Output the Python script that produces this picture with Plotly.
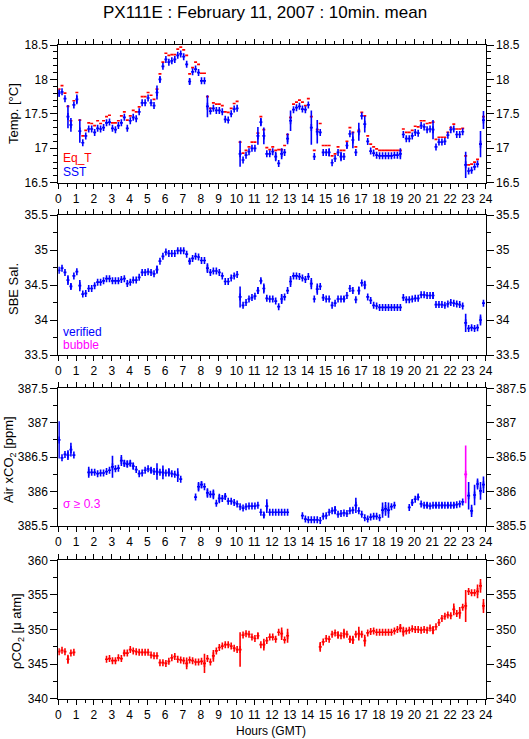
import plotly.graph_objects as go

# 10-minute sample slots over the day (hours GMT)
N = 144
hours = [i / 6 + 1 / 24 for i in range(N)]

eq_t = [17.86, 17.91, 17.80, 17.61, 17.40, 17.69, 17.81, 17.41, 17.18, 17.26,
        17.37, 17.36, 17.33, 17.40, 17.36, 17.40, 17.46, 17.48, 17.37, 17.37,
        17.40, 17.47, 17.53, 17.41, 17.47, 17.55, 17.53, 17.60, 17.75, 17.75,
        17.81, 17.77, 17.71, 17.86, 18.08, 18.25, 18.38, 18.35, 18.36, 18.36,
        18.44, 18.47, 18.43, 18.35, 18.08, 18.17, 18.25, 18.22, 18.09, 18.09,
        17.75, 17.58, 17.66, 17.64, 17.64, 17.62, 17.53, 17.52, 17.58, 17.65,
        17.68, 17.09, 16.93, 16.97, 17.02, 17.09, 17.09, 17.22, 17.46, 17.27,
        17.01, 16.98, 17.02, 16.97, 16.98, 16.98, 17.04, 17.20, 17.45, 17.64,
        17.67, 17.70, 17.67, 17.62, 17.72, 17.46, 16.97, 17.27, 17.36, 17.04,
        17.04, 17.04, 16.89, 16.92, 17.02, 16.97, 16.97, 17.10, 17.30, 17.23,
        17.02, 17.26, 17.52, 17.47, 17.18, 17.06, 17.02, 16.99, 16.97, 16.97,
        16.97, 16.97, 16.97, 16.97, 16.97, 16.97, 17.28, 17.23, 17.23, 17.26,
        17.32, 17.31, 17.40, 17.40, 17.36, 17.37, 17.38, 17.13, 17.16, 17.16,
        17.16, 17.23, 17.30, 17.35, 17.28, 17.28, 17.29, 16.89, 16.76, 16.77,
        16.80, 16.84, 17.06, 17.46]

sst = [17.80, 17.82, 17.72, 17.46, 17.34, 17.63, 17.71, 17.25, 17.08, 17.18,
       17.28, 17.28, 17.23, 17.29, 17.28, 17.30, 17.37, 17.38, 17.29, 17.27,
       17.33, 17.37, 17.45, 17.29, 17.40, 17.45, 17.43, 17.53, 17.66, 17.66,
       17.73, 17.66, 17.62, 17.81, 18.00, 18.19, 18.29, 18.25, 18.27, 18.29,
       18.35, 18.37, 18.33, 18.22, 17.97, 18.11, 18.15, 18.10, 17.98, 17.98,
       17.61, 17.54, 17.58, 17.55, 17.55, 17.53, 17.42, 17.41, 17.50, 17.57,
       17.58, 16.92, 16.83, 16.90, 16.95, 17.00, 17.00, 17.18, 17.38, 17.18,
       16.92, 16.92, 16.95, 16.88, 16.78, 16.92, 16.94, 17.14, 17.40, 17.56,
       17.59, 17.61, 17.57, 17.56, 17.63, 17.30, 16.88, 17.24, 17.23, 16.94,
       16.94, 16.94, 16.79, 16.85, 16.94, 16.88, 16.88, 17.04, 17.21, 17.12,
       16.94, 17.24, 17.47, 17.35, 17.10, 16.96, 16.93, 16.90, 16.89, 16.89,
       16.89, 16.89, 16.89, 16.90, 16.90, 16.92, 17.20, 17.14, 17.14, 17.18,
       17.23, 17.22, 17.33, 17.31, 17.27, 17.28, 17.27, 17.02, 17.09, 17.09,
       17.10, 17.19, 17.27, 17.28, 17.20, 17.20, 17.24, 16.76, 16.67, 16.68,
       16.73, 16.77, 17.06, 17.41]
sst_sd = {0: 0.05, 3: 0.17, 4: 0.10, 6: 0.07, 7: 0.17, 33: 0.10, 34: 0.04, 44: 0.04,
          50: 0.16, 61: 0.19, 67: 0.13, 68: 0.06, 69: 0.12, 73: 0.07, 75: 0.08,
          77: 0.08, 78: 0.15, 85: 0.25, 87: 0.17, 91: 0.06, 95: 0.07, 97: 0.04,
          99: 0.12, 101: 0.13, 103: 0.12, 115: 0.08, 126: 0.14, 137: 0.19,
          142: 0.19, 143: 0.13}

sal = [34.71, 34.74, 34.68, 34.57, 34.48, 34.63, 34.69, 34.49, 34.37, 34.38,
       34.45, 34.45, 34.49, 34.54, 34.54, 34.56, 34.59, 34.59, 34.56, 34.56,
       34.56, 34.58, 34.59, 34.52, 34.54, 34.57, 34.57, 34.61, 34.68, 34.68,
       34.69, 34.68, 34.66, 34.72, 34.84, 34.91, 34.97, 34.95, 34.95, 34.95,
       34.99, 34.99, 34.99, 34.94, 34.84, 34.88, 34.91, 34.90, 34.85, 34.85,
       34.74, 34.68, 34.70, 34.70, 34.68, 34.63, 34.55, 34.55, 34.60, 34.63,
       34.65, 34.33, 34.21, 34.25, 34.30, 34.32, 34.34, 34.42, 34.56, 34.45,
       34.31, 34.30, 34.30, 34.27, 34.19, 34.30, 34.33, 34.42, 34.55, 34.63,
       34.63, 34.62, 34.60, 34.58, 34.62, 34.52, 34.30, 34.44, 34.48, 34.32,
       34.30, 34.30, 34.21, 34.24, 34.30, 34.30, 34.30, 34.35, 34.45, 34.42,
       34.29, 34.42, 34.53, 34.50, 34.33, 34.28, 34.21, 34.20, 34.18, 34.18,
       34.18, 34.18, 34.18, 34.18, 34.18, 34.18, 34.32, 34.29, 34.29, 34.30,
       34.31, 34.31, 34.36, 34.36, 34.35, 34.35, 34.35, 34.22, 34.22, 34.22,
       34.21, 34.23, 34.25, 34.24, 34.23, 34.22, 34.20, 33.96, 33.88, 33.89,
       33.88, 33.89, 34.00, 34.24]
sal_sd = {3: 0.07, 4: 0.04, 7: 0.08, 33: 0.06, 44: 0.04, 50: 0.07, 61: 0.15,
          67: 0.05, 68: 0.03, 69: 0.07, 75: 0.07, 78: 0.08, 85: 0.08, 87: 0.08,
          96: 0.04, 101: 0.06, 103: 0.06, 126: 0.05, 137: 0.13, 142: 0.08}

xco2 = [386.75, 386.49, 386.54, 386.53, 386.61, 386.53, None, None, None, None,
        386.28, 386.28, 386.28, 386.26, 386.27, 386.27, 386.29, 386.31, 386.36, 386.33,
        386.34, 386.45, 386.41, 386.40, 386.41, 386.37, 386.32, 386.26, 386.27, 386.31,
        386.33, 386.31, 386.29, 386.29, 386.28, 386.28, 386.27, 386.28, 386.26, 386.25,
        386.24, 386.18, None, None, None, None, 385.92, 386.07, 386.10, 386.07,
        385.98, 385.96, 385.96, 385.83, 385.90, 385.90, 385.93, 385.86, 385.86, 385.84,
        385.82, 385.78, 385.76, 385.78, 385.79, 385.79, 385.79, 385.80, 385.70, 385.66,
        385.79, 385.70, 385.70, 385.70, 385.70, 385.70, 385.70, 385.70, None, None,
        None, None, 385.65, 385.60, 385.59, 385.59, 385.59, 385.59, 385.58, 385.64,
        385.65, 385.70, 385.72, 385.73, 385.67, 385.68, 385.69, 385.68, 385.72, 385.73,
        385.80, 385.72, 385.67, 385.62, 385.60, 385.63, 385.64, 385.64, 385.62, 385.73,
        385.75, 385.73, 385.78, 385.80, None, None, None, None, 385.77, 385.84,
        385.89, 385.92, 385.82, 385.80, 385.80, 385.79, 385.80, 385.80, 385.80, 385.80,
        385.80, 385.80, 385.80, 385.80, 385.81, 385.82, 385.85, None, 385.94, 385.72,
        385.95, 386.11, 386.01, 386.10]
xco2_sd = {0: 0.27, 3: 0.07, 4: 0.10, 10: 0.08, 18: 0.16, 21: 0.08, 22: 0.05,
           23: 0.05, 24: 0.04, 25: 0.05, 31: 0.04, 33: 0.12, 35: 0.10, 37: 0.06,
           40: 0.10, 47: 0.07, 48: 0.05, 50: 0.07, 52: 0.07, 54: 0.07, 56: 0.04,
           69: 0.04, 70: 0.10, 93: 0.06, 100: 0.11, 109: 0.11, 110: 0.10, 111: 0.11,
           119: 0.04, 121: 0.04, 124: 0.04, 127: 0.04, 129: 0.04, 131: 0.04,
           133: 0.04, 138: 0.20, 139: 0.09, 140: 0.15, 141: 0.08, 142: 0.13, 143: 0.12}
# flagged sample (sigma >= 0.3)
xco2_flag_idx = [137]
xco2_flag = [386.25]
xco2_flag_sd = [0.42]

pco2 = [346.8, 347.0, 346.8, 345.7, 346.6, 346.7, None, None, None, None,
        None, None, None, None, None, None, 345.7, 345.8, 345.5, 345.5,
        345.9, 345.8, 346.6, 346.6, 347.1, 346.9, 346.8, 346.7, 346.7, 346.7,
        346.7, 346.3, 346.2, 346.2, 345.2, 345.2, 345.1, 345.4, 345.9, 346.1,
        345.7, 345.6, 345.5, 345.1, 345.6, 345.5, 345.3, 345.3, 345.4, 345.1,
        345.8, 345.3, 346.2, 346.9, 347.4, 347.6, 347.8, 347.8, 347.6, 347.3,
        347.1, 347.1, 349.2, 349.4, 349.3, 348.9, 348.7, 349.1, 347.8, 347.8,
        348.4, 348.9, 348.9, 348.6, 349.6, 349.4, 348.5, 349.1, None, None,
        None, None, None, None, None, None, None, None, 347.5, 348.2,
        348.7, 348.6, 349.3, 349.5, 349.2, 349.1, 349.4, 349.3, 348.6, 348.5,
        349.3, 349.4, 349.3, 348.4, 349.5, 349.7, 349.8, 349.6, 349.6, 349.6,
        349.6, 349.6, 349.6, 349.8, 350.0, 350.2, 349.7, 349.8, 349.9, 350.1,
        350.0, 350.0, 349.9, 350.0, 349.9, 350.2, 349.9, 350.4, 351.0, 351.6,
        351.9, 352.1, 352.0, 352.9, 352.3, 352.4, 353.2, 353.4, 355.5, 355.3,
        355.3, 355.5, 356.3, 353.4]
pco2_sd = {3: 0.65, 22: 0.4, 43: 0.85, 49: 1.4, 52: 0.85, 61: 2.5, 67: 0.4,
           69: 0.85, 75: 0.9, 77: 1.0, 88: 0.7, 94: 0.5, 96: 0.7, 98: 0.5,
           99: 0.6, 101: 1.0, 103: 0.85, 115: 0.6, 116: 0.7, 126: 0.6, 133: 0.85,
           135: 0.85, 137: 2.3, 141: 1.0, 142: 1.0, 143: 1.0}

y_ranges = [[16.5, 18.5], [33.5, 35.5], [385.5, 387.5], [340, 360]]
y_dticks = [0.5, 0.5, 0.5, 5]
y_minor = [0.1, 0.25, 0.25, 2.5]
y_titles = ["Temp. [°C]", "SBE Sal.", "Air xCO<sub>2</sub> [ppm]", "ρCO<sub>2</sub> [μ atm]"]

BLUE, RED, MAG = "#0000ff", "#ff0000", "#ff00ff"
W, H = 529, 739
FONT = "Liberation Sans, Arial, Helvetica, sans-serif"

fig = go.Figure()


def sd_list(d):
    return [d.get(i, 0) for i in range(N)]


def add(x, y, color, p, sd=None, vmark=True):
    xa = "x" if p == 1 else f"x{p}"
    ya = "y" if p == 1 else f"y{p}"
    fig.add_trace(go.Scatter(
        x=x, y=y, mode="markers", xaxis=xa, yaxis=ya,
        marker=dict(symbol="line-ns", size=5 if vmark else 1, color=color,
                    opacity=1 if vmark else 0,
                    line=dict(color=color, width=1.6 if vmark else 0)),
        error_x=dict(type="constant", value=1 / 12, color=color, thickness=1.7, width=0),
        error_y=(dict(type="data", array=sd, color=color, thickness=1.6, width=0)
                 if sd is not None else dict(visible=False)),
        showlegend=False, hoverinfo="skip"))


add(hours, eq_t, RED, 1, vmark=False)
add(hours, sst, BLUE, 1, sd_list(sst_sd))
add(hours, sal, BLUE, 2, sd_list(sal_sd))
add(hours, xco2, BLUE, 3, sd_list(xco2_sd))
add([hours[i] for i in xco2_flag_idx], xco2_flag, MAG, 3, xco2_flag_sd)
add(hours, pco2, RED, 4, sd_list(pco2_sd))

# pixel layout of the four panels (top, bottom)
panels = [(45, 182.7), (215, 355), (388.3, 526), (560.3, 698.7)]
x_dom = [58.3 / W, 485.7 / W]

common = dict(showline=True, linecolor="black", linewidth=1, mirror="ticks",
              ticks="outside", ticklen=7, tickwidth=1, tickcolor="black",
              showgrid=False, zeroline=False, automargin=False,
              tickfont=dict(family=FONT, size=12, color="black"))

layout = dict(width=W, height=H, margin=dict(l=0, r=0, t=0, b=0),
              paper_bgcolor="white", plot_bgcolor="white", showlegend=False,
              font=dict(family=FONT, color="black"))

for k, (top, bot) in enumerate(panels):
    p = k + 1
    sfx = "" if p == 1 else str(p)
    dom = [1 - bot / H, 1 - top / H]
    layout[f"xaxis{sfx}"] = dict(common, domain=x_dom, range=[0, 24], tick0=0, dtick=1,
                                 anchor=f"y{sfx}", ticklen=5,
                                 minor=dict(ticks="outside", ticklen=3, dtick=0.5,
                                            tick0=0, tickcolor="black"))
    layout[f"yaxis{sfx}"] = dict(common, domain=dom, range=y_ranges[k], dtick=y_dticks[k],
                                 tick0=y_ranges[k][0], anchor=f"x{sfx}",
                                 minor=dict(ticks="outside", ticklen=4, dtick=y_minor[k],
                                            tick0=y_ranges[k][0], tickcolor="black"))
    ra = 4 + p
    layout[f"yaxis{ra}"] = dict(common, range=y_ranges[k], dtick=y_dticks[k],
                                tick0=y_ranges[k][0], overlaying=f"y{sfx}", side="right",
                                anchor=f"x{sfx}", showline=False, mirror=False)
    fig.add_trace(go.Scatter(x=[12], y=[y_ranges[k][0]], xaxis=f"x{sfx}", yaxis=f"y{ra}",
                             mode="markers", marker=dict(opacity=0), showlegend=False,
                             hoverinfo="skip"))

fig.update_layout(**layout)

ann = []
ann.append(dict(text="PX111E : February 11, 2007 : 10min. mean", x=0.5, y=1 - 13 / H,
                xref="paper", yref="paper", showarrow=False, xanchor="center",
                yanchor="middle", font=dict(family=FONT, size=17, color="black")))
ann.append(dict(text="Hours (GMT)", x=271 / W, y=1 - 731 / H, xref="paper", yref="paper",
                showarrow=False, xanchor="center", yanchor="middle",
                font=dict(family=FONT, size=12, color="black")))
title_pos = [(13, 114), (13, 289), (9, 460), (17, 631)]
for t, (tx, ty) in zip(y_titles, title_pos):
    ann.append(dict(text=t, x=tx / W, y=1 - ty / H, xref="paper", yref="paper",
                    showarrow=False, textangle=-90, xanchor="center", yanchor="middle",
                    font=dict(family=FONT, size=13, color="black")))
legend_txt = [("Eq_T", RED, 158), ("SST", BLUE, 172), ("verified", BLUE, 332),
              ("bubble", MAG, 345), ("σ ≥ 0.3", MAG, 504)]
for t, c, ty in legend_txt:
    ann.append(dict(text=t, x=61 / W, y=1 - ty / H, xref="paper", yref="paper",
                    showarrow=False, xanchor="left", yanchor="middle",
                    font=dict(family=FONT, size=12, color=c)))
fig.update_layout(annotations=ann)

fig.write_html("out.html", config={"displayModeBar": False},
               post_script="document.body.style.margin='0';document.body.style.overflow='hidden';")
